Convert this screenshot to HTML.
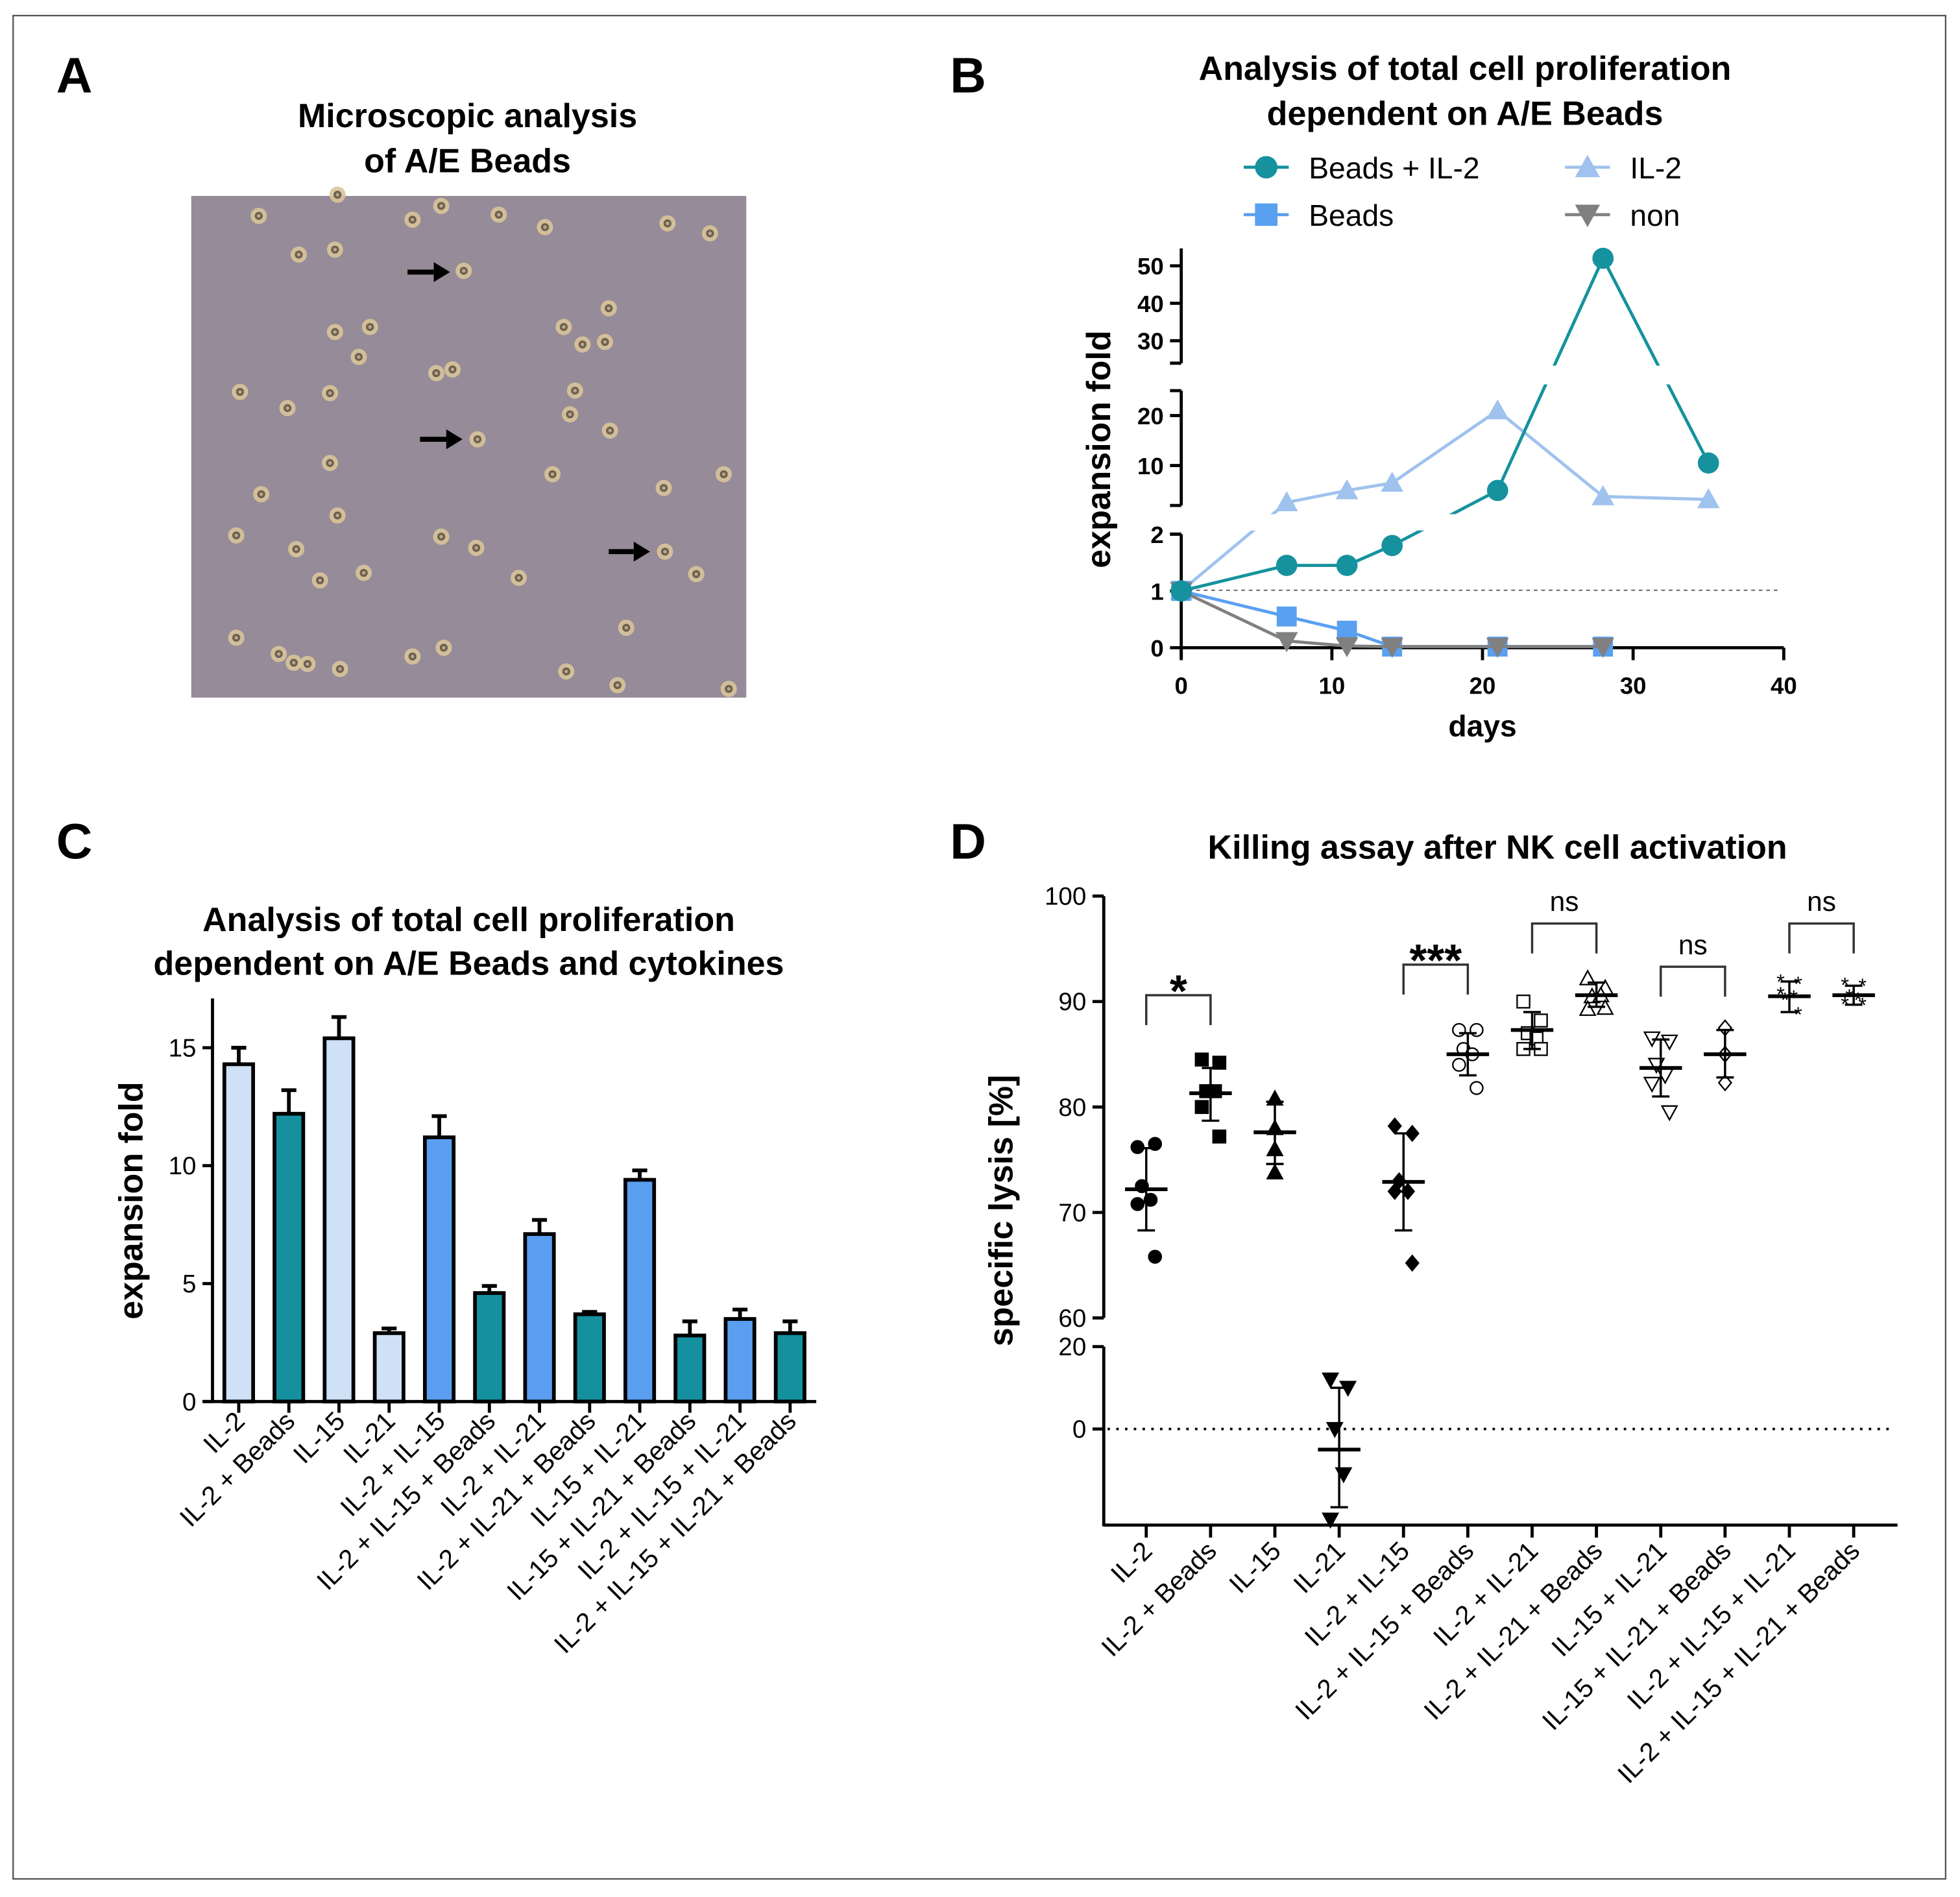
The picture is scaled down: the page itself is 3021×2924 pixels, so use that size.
<!DOCTYPE html>
<html><head><meta charset="utf-8"><style>
html,body{margin:0;padding:0;background:#fff;}
svg{display:block;font-family:"Liberation Sans",Arial,sans-serif;}
</style></head><body>
<svg id="root" width="3021" height="2924" viewBox="0 0 1568 1520" preserveAspectRatio="none" xmlns="http://www.w3.org/2000/svg">
<rect x="0" y="0" width="1568" height="1520" fill="#fff"/>
<rect x="10.5" y="12.5" width="1546" height="1493" fill="none" stroke="#555" stroke-width="1.2"/>

<!-- Panel A -->
<g>
<text x="45" y="74" font-size="40" font-weight="bold">A</text>
<text x="374" y="102" font-size="27" font-weight="bold" text-anchor="middle">Microscopic analysis</text>
<text x="374" y="138" font-size="27" font-weight="bold" text-anchor="middle">of A/E Beads</text>
<rect x="153" y="157" width="444" height="402" fill="#968b98"/>
<g id="cells"></g>
<g id="arrows"></g>
</g>

<!-- Panel B -->
<g id="panelB">
<text x="760" y="74" font-size="40" font-weight="bold">B</text>
<text x="1172" y="64" font-size="27" font-weight="bold" text-anchor="middle">Analysis of total cell proliferation</text>
<text x="1172" y="100" font-size="27" font-weight="bold" text-anchor="middle">dependent on A/E Beads</text>
<text transform="translate(888,360) rotate(-90)" font-size="27" font-weight="bold" text-anchor="middle">expansion fold</text>
<text x="1186" y="590" font-size="24" font-weight="bold" text-anchor="middle">days</text>
</g>

<!-- Panel C -->
<g id="panelC">
<text x="45" y="688" font-size="40" font-weight="bold">C</text>
<text x="375" y="746" font-size="27" font-weight="bold" text-anchor="middle">Analysis of total cell proliferation</text>
<text x="375" y="781" font-size="27" font-weight="bold" text-anchor="middle">dependent on A/E Beads and cytokines</text>
<text transform="translate(114,962) rotate(-90)" font-size="27" font-weight="bold" text-anchor="middle">expansion fold</text>
</g>

<!-- Panel D -->
<g id="panelD">
<text x="760" y="688" font-size="40" font-weight="bold">D</text>
<text x="1198" y="688" font-size="27" font-weight="bold" text-anchor="middle">Killing assay after NK cell activation</text>
<text transform="translate(810,970) rotate(-90)" font-size="27" font-weight="bold" text-anchor="middle">specific lysis [%]</text>
</g>
</svg>
<script>
const NS="http://www.w3.org/2000/svg";
function mk(tag,attrs,parent,txt){const e=document.createElementNS(NS,tag);for(const k in attrs)e.setAttribute(k,attrs[k]);if(txt!==undefined)e.textContent=txt;parent.appendChild(e);return e;}

// ---------- Panel A cells (illustration) ----------
const cellPos=[[207,173],[270,156],[330,176],[353,165],[399,172],[436,182],[534,179],[568,187],[239,204],[268,200],[371,217],[487,247],[451,262],[466,276],[484,274],[268,266],[296,262],[287,286],[349,299],[192,314],[230,327],[264,315],[362,296],[382,352],[460,313],[456,332],[488,345],[579,380],[264,371],[531,391],[209,396],[270,413],[442,380],[189,429],[237,440],[353,430],[381,439],[532,442],[557,460],[415,463],[291,459],[256,465],[501,503],[189,511],[223,524],[235,531],[246,532],[272,536],[330,526],[355,519],[453,538],[583,552],[494,549]];
const cg=document.getElementById('cells');
cellPos.forEach(p=>{const g=mk('g',{},cg);


mk('circle',{cx:p[0],cy:p[1],r:6.5,fill:'#d8c49a',opacity:0.9},g);
mk('circle',{cx:p[0],cy:p[1],r:3.2,fill:'#6e6050'},g);
mk('circle',{cx:p[0],cy:p[1],r:1.4,fill:'#b8a98a'},g);});
const ag=document.getElementById('arrows');
[[326,218,360],[336,352,370],[487,442,520]].forEach(a=>{
const g=mk('g',{},ag);


mk('line',{x1:a[0],y1:a[1],x2:a[2]-10,y2:a[1],stroke:'#000','stroke-width':4},g);
mk('polygon',{points:`${a[2]-13},${a[1]-8} ${a[2]},${a[1]} ${a[2]-13},${a[1]+8}`,fill:'#000'},g);});

// ---------- Panel B ----------
const days=[0,7,11,14,21,28,35];
const beadsIL2=[1,1.45,1.45,1.8,5,52,10.5];
const il2=[1,2.6,5,6.5,21,3.8,3.2];
const beads=[1,0.55,0.3,0.02,0.02,0.02];
const nonStim=[1,0.12,0.03,0.02,0.02,0.02];
const xTicksB=[0,10,20,30,40];
const yTicksLowB=[0,1,2], yTicksMidB=[10,20], yTicksTopB=[30,40,50];
const pB=document.getElementById('panelB');
const xB=d=>945+d*12.05;
function yB(v){ if(v<=2) return 519-v*45.5; if(v<=25) return 373-(v-10)*4; return 273-(v-30)*3;}
const defs=mk('defs',{},pB);
[['bLow',425,123],['bMid',308,104],['bTop',192,101]].forEach(c=>{const cp=mk('clipPath',{id:c[0]},defs);mk('rect',{x:930,y:c[1],width:520,height:c[2]},cp);});
const axB=mk('g',{stroke:'#000','stroke-width':2.5,fill:'none'},pB);


mk('line',{x1:945,y1:428,x2:945,y2:528},axB);
mk('line',{x1:945,y1:313,x2:945,y2:405},axB);
mk('line',{x1:945,y1:199,x2:945,y2:291},axB);
[[428,405],[313,291]].forEach(b=>{mk('line',{x1:936,y1:b[0],x2:945,y2:b[0]},axB);mk('line',{x1:936,y1:b[1],x2:945,y2:b[1]},axB);});
const xaB=mk('line',{x1:945,y1:519,x2:1427,y2:519,stroke:'#000','stroke-width':2.5},pB);


mk('line',{x1:945,y1:473,x2:1425,y2:473,stroke:'#777','stroke-width':1.2,'stroke-dasharray':'3,3'},pB);
[...yTicksLowB,...yTicksMidB,...yTicksTopB].forEach(v=>{const y=yB(v);
mk('line',{x1:936,y1:y,x2:945,y2:y,stroke:'#000','stroke-width':2.5},pB);
const t=mk('text',{x:931,y:y+7,'font-size':19,'font-weight':'bold','text-anchor':'end'},pB,String(v));

});
xTicksB.forEach(d=>{const x=xB(d);
mk('line',{x1:x,y1:519,x2:x,y2:529,stroke:'#000','stroke-width':2.5},pB);
const t=mk('text',{x:x,y:556,'font-size':19,'font-weight':'bold','text-anchor':'middle'},pB,String(d));

});
function drawSeries(vals,color,marker,name){
const g=mk('g',{},pB);


const pts=vals.map((v,i)=>[xB(days[i]),yB(v)]).map(p=>p.join(',')).join(' ');
['bLow','bMid','bTop'].forEach(c=>mk('polyline',{points:pts,fill:'none',stroke:color,'stroke-width':2.5,'clip-path':`url(#${c})`},g));
vals.forEach((v,i)=>{const x=xB(days[i]),y=yB(v);let m;
if(marker==='c')m=mk('circle',{cx:x,cy:y,r:8.5,fill:color},g);
if(marker==='s')m=mk('rect',{x:x-8,y:y-8,width:16,height:16,fill:color},g);
if(marker==='t')m=mk('polygon',{points:`${x-9},${y+7} ${x+9},${y+7} ${x},${y-9}`,fill:color},g);
if(marker==='v')m=mk('polygon',{points:`${x-9},${y-7} ${x+9},${y-7} ${x},${y+9}`,fill:color},g);

});}
drawSeries(il2,'#9fc2ee','t','series-il-2');
drawSeries(beads,'#5aa0f0','s','series-beads');
drawSeries(nonStim,'#808080','v','series-non');
drawSeries(beadsIL2,'#15929e','c','series-beads-il-2');
const lg=mk('g',{},pB);


[[995,134,'#15929e','c','Beads + IL-2'],[1252,134,'#9fc2ee','t','IL-2'],[995,172,'#5aa0f0','s','Beads'],[1252,172,'#808080','v','non']].forEach(L=>{
const e=mk('g',{},lg);


const [x,y,c,m,t]=L;mk('line',{x1:x,y1:y,x2:x+36,y2:y,stroke:c,'stroke-width':2.5},e);
const cx=x+18;
if(m==='c')mk('circle',{cx:cx,cy:y,r:9,fill:c},e);
if(m==='s')mk('rect',{x:cx-9,y:y-9,width:18,height:18,fill:c},e);
if(m==='t')mk('polygon',{points:`${cx-10},${y+8} ${cx+10},${y+8} ${cx},${y-10}`,fill:c},e);
if(m==='v')mk('polygon',{points:`${cx-10},${y-8} ${cx+10},${y-8} ${cx},${y+10}`,fill:c},e);
mk('text',{x:x+52,y:y+9,'font-size':24},e,t);});

// ---------- Panel C ----------
const catsC=['IL-2','IL-2 + Beads','IL-15','IL-21','IL-2 + IL-15','IL-2 + IL-15 + Beads','IL-2 + IL-21','IL-2 + IL-21 + Beads','IL-15 + IL-21','IL-15 + IL-21 + Beads','IL-2 + IL-15 + IL-21','IL-2 + IL-15 + IL-21 + Beads'];
const valsC=[14.3,12.2,15.4,2.9,11.2,4.6,7.1,3.7,9.4,2.8,3.5,2.9];
const errC=[0.7,1.0,0.9,0.2,0.9,0.3,0.6,0.1,0.4,0.6,0.4,0.5];
const groupC=['light','beads','light','light','combo','beads','combo','beads','combo','beads','combo','beads'];
const yTicksC=[0,5,10,15];
const colC={light:'#cfe1f7',beads:'#14909f',combo:'#5a9ef0'};
const pC=document.getElementById('panelC');
const xC=i=>191+i*40.1, yC=v=>1123-v*18.9;
const ayC=mk('line',{x1:170,y1:800,x2:170,y2:1124,stroke:'#000','stroke-width':2.5},pC);


const axC=mk('line',{x1:162,y1:1123,x2:653,y2:1123,stroke:'#000','stroke-width':2.5},pC);


yTicksC.forEach(v=>{const y=yC(v);mk('line',{x1:162,y1:y,x2:170,y2:y,stroke:'#000','stroke-width':2.5},pC);
const t=mk('text',{x:157,y:y+7,'font-size':20,'text-anchor':'end'},pC,String(v));

});
valsC.forEach((v,i)=>{const x=xC(i);
const e=mk('line',{x1:x,y1:yC(v),x2:x,y2:yC(v+errC[i]),stroke:'#000','stroke-width':3},pC);


mk('line',{x1:x-6,y1:yC(v+errC[i]),x2:x+6,y2:yC(v+errC[i]),stroke:'#000','stroke-width':3},pC);
const b=mk('rect',{x:x-11.5,y:yC(v),width:23,height:1123-yC(v),fill:colC[groupC[i]],stroke:'#000','stroke-width':3},pC);


mk('line',{x1:x,y1:1123,x2:x,y2:1132,stroke:'#000','stroke-width':2.5},pC);
const t=mk('text',{x:x+6,y:1140,'font-size':21,'text-anchor':'end',transform:`rotate(-45 ${x+6} 1140)`},pC,catsC[i]);

});

// ---------- Panel D ----------
const catsD=catsC.slice();
const meansD=[72.2,81.3,77.6,-5,72.9,85,87.3,90.6,83.7,85,90.5,90.6];
const sdUpD=[76.1,83.7,80.5,10,77.5,87,89,91.8,86.4,87.3,91.9,91.5];
const sdLoD=[68.3,78.7,74.6,-19,68.3,83,85.5,89.5,81,82.8,89,89.7];
const pointsD=[[76.2,76.5,72.5,71.2,70.8,65.8],[84.5,84.2,81.5,81.5,80,77.2],[80.8,78,76,73.8],[12,10,0,-11,-22],[78.2,77.5,73,72,72,65.2],[87.3,87.3,85.5,85,84,81.8],[90,88.2,87,86.5,85.5,85.5],[92.2,91.3,90.5,90.6,89.3,89.4],[86.5,86.2,84,83,82.2,79.5],[87.5,85,85,82.3],[92,91.8,90.3,90.5,90.8,88.9],[91.7,91.6,90.6,90.3,89.9,89.8]];
const markersD=['circle','square','tri','tridown','diamond','ocircle','osquare','otri','otridown','odiamond','star','star'];
const sigPairs=[[0,1,'*',90.6],[4,5,'***',93.5],[6,7,'ns',97.4],[8,9,'ns',93.3],[10,11,'ns',97.4]];
const yTicksTopD=[60,70,80,90,100], yTicksLowD=[0,20];
const pD=document.getElementById('panelD');
const xD=i=>917+i*51.45;
function yD(v){return v>=40? 718+(100-v)*8.45 : 1145-v*3.3;}
const ayD=mk('g',{stroke:'#000','stroke-width':2.5},pD);


mk('line',{x1:883,y1:718,x2:883,y2:1056},ayD);
mk('line',{x1:883,y1:1079,x2:883,y2:1223},ayD);
const axD=mk('line',{x1:883,y1:1222,x2:1518,y2:1222,stroke:'#000','stroke-width':2.5},pD);


mk('line',{x1:886,y1:1145,x2:1516,y2:1145,stroke:'#000','stroke-width':2,'stroke-dasharray':'2,5'},pD);
[...yTicksTopD,...yTicksLowD].forEach(v=>{const y=yD(v);mk('line',{x1:874,y1:y,x2:883,y2:y,stroke:'#000','stroke-width':2.5},pD);
const t=mk('text',{x:869,y:y+7,'font-size':20,'text-anchor':'end'},pD,String(v));

});
function marker(g,type,x,y){const s=5;let m;
const fill=type.startsWith('o')?'#fff':'#000', st='#000';
const base=type.replace(/^o(?=circle|square|tri|diamond)/,'');
if(base==='circle')m=mk('circle',{cx:x,cy:y,r:s,fill:fill,stroke:st,'stroke-width':1.2},g);
else if(base==='square')m=mk('rect',{x:x-s,y:y-s,width:2*s,height:2*s,fill:fill,stroke:st,'stroke-width':1.2},g);
else if(base==='tri')m=mk('polygon',{points:`${x-s-1},${y+s} ${x+s+1},${y+s} ${x},${y-s-1}`,fill:fill,stroke:st,'stroke-width':1.2},g);
else if(base==='tridown')m=mk('polygon',{points:`${x-s-1},${y-s} ${x+s+1},${y-s} ${x},${y+s+1}`,fill:fill,stroke:st,'stroke-width':1.2},g);
else if(base==='diamond')m=mk('polygon',{points:`${x},${y-s-1} ${x+s},${y} ${x},${y+s+1} ${x-s},${y}`,fill:fill,stroke:st,'stroke-width':1.2},g);
else m=mk('text',{x:x,y:y+7,'font-size':17,'text-anchor':'middle',fill:'#000'},g,'*');

}
catsD.forEach((c,i)=>{const x=xD(i);
const g=mk('g',{},pD);


const n=pointsD[i].length;
pointsD[i].forEach((v,j)=>{const off=n>4?((j%2===0)?-7:7)*((j===2||j===3)?0.5:1):0;marker(g,markersD[i],x+off,yD(v));});
mk('line',{x1:x,y1:yD(sdUpD[i]),x2:x,y2:yD(sdLoD[i]),stroke:'#000','stroke-width':1.8},g);
mk('line',{x1:x-7,y1:yD(sdUpD[i]),x2:x+7,y2:yD(sdUpD[i]),stroke:'#000','stroke-width':1.8},g);
mk('line',{x1:x-7,y1:yD(sdLoD[i]),x2:x+7,y2:yD(sdLoD[i]),stroke:'#000','stroke-width':1.8},g);
mk('line',{x1:x-17,y1:yD(meansD[i]),x2:x+17,y2:yD(meansD[i]),stroke:'#000','stroke-width':3},g);
mk('line',{x1:x,y1:1222,x2:x,y2:1232,stroke:'#000','stroke-width':2.5},pD);
const t=mk('text',{x:x+6,y:1244,'font-size':21,'text-anchor':'end',transform:`rotate(-45 ${x+6} 1244)`},pD,c);

});
sigPairs.forEach(s=>{const x1=xD(s[0]),x2=xD(s[1]),y=yD(s[3]);
const g=mk('g',{},pD);


mk('polyline',{points:`${x1},${y+24} ${x1},${y} ${x2},${y} ${x2},${y+24}`,fill:'none',stroke:'#333','stroke-width':1.8},g);
const big=s[2]!=='ns';
mk('text',{x:(x1+x2)/2,y:big?y+9:y-10,'font-size':big?36:22,'font-weight':big?'bold':'normal','text-anchor':'middle'},g,s[2]);});
</script>
</body></html>
